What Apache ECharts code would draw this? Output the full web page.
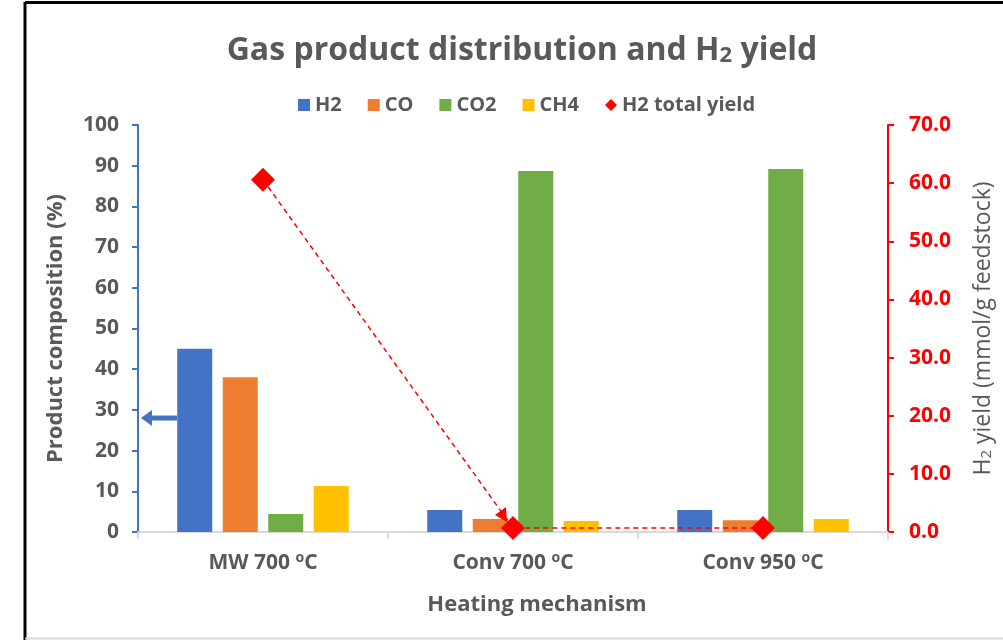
<!DOCTYPE html>
<html>
<head>
<meta charset="utf-8">
<script src="https://cdn.jsdelivr.net/npm/echarts@6/dist/echarts.min.js"></script>
<style>
  html, body { margin: 0; padding: 0; background: #fff; }
  #main { width: 1003px; height: 640px; }
</style>
</head>
<body>
<div id="main"></div>
<script>
// data
var categories = ['MW 700 oC', 'Conv 700 oC', 'Conv 950 oC'];
var h2 = [45, 5.4, 5.4];
var co = [38, 3.2, 2.9];
var co2 = [4.4, 88.7, 89.2];
var ch4 = [11.3, 2.7, 3.2];
var h2Yield = [60.6, 0.7, 0.7];
var leftTicks = [0, 100, 10];
var rightTicks = [0, 70, 10];

var grey = '#595959';
var font = 'Open Sans';

var myChart = echarts.init(document.getElementById('main'));

function barSeries(name, data, color) {
    return {
        name: name,
        type: 'bar',
        data: data,
        barWidth: 35,
        barGap: '30%',
        itemStyle: { color: color },
        z: 2
    };
}

var option = {
    backgroundColor: '#fff',
    textStyle: { fontFamily: font },
    title: {
        text: 'Gas product distribution and H{sub|2} yield',
        left: 517,
        textAlign: 'center',
        top: 30,
        textStyle: {
            fontFamily: font,
            fontSize: 32,
            fontWeight: 'bold',
            color: grey,
            rich: {
                sub: { fontFamily: font, fontSize: 22, fontWeight: 'bold', color: grey, padding: [10, 0, 0, 0] }
            }
        }
    },
    legend: {
        top: 90,
        left: 293,
        itemWidth: 12,
        itemHeight: 12,
        itemGap: 26,
        textStyle: { fontFamily: font, fontSize: 20, fontWeight: 'bold', color: grey },
        data: [
            { name: 'H2', icon: 'rect' },
            { name: 'CO', icon: 'rect' },
            { name: 'CO2', icon: 'rect' },
            { name: 'CH4', icon: 'rect' },
            { name: 'H2 total yield', icon: 'diamond', itemStyle: { color: '#ff0000' } }
        ]
    },
    grid: { left: 138, right: 113, top: 125, bottom: 108 },
    xAxis: {
        type: 'category',
        data: categories,
        name: 'Heating mechanism',
        nameLocation: 'middle',
        nameGap: 62,
        nameTextStyle: { fontFamily: font, fontSize: 22, fontWeight: 'bold', color: grey, padding: [0, 0, 0, 48] },
        axisLine: { lineStyle: { color: '#d9d9d9', width: 2 } },
        axisTick: { show: true, length: 7, lineStyle: { color: '#d9d9d9', width: 2 } },
        axisLabel: {
            margin: 19,
            formatter: function (v) {
                var p = v.split(' oC');
                return p[0] + ' {sup|o}C';
            },
            fontFamily: font,
            fontSize: 21,
            fontWeight: 'bold',
            color: grey,
            rich: {
                sup: { fontFamily: font, fontSize: 14, fontWeight: 'bold', color: grey, padding: [0, 0, 10, 0] }
            }
        }
    },
    yAxis: [
        {
            type: 'value',
            min: leftTicks[0],
            max: leftTicks[1],
            interval: leftTicks[2],
            name: 'Product composition (%)',
            nameLocation: 'middle',
            nameRotate: 90,
            nameGap: 71,
            nameTextStyle: { fontFamily: font, fontSize: 22, fontWeight: 'bold', color: grey },
            axisLine: { show: true, lineStyle: { color: '#4472c4', width: 2 } },
            axisTick: { show: true, length: 6, lineStyle: { color: '#4472c4', width: 2 } },
            axisLabel: { margin: 19, fontFamily: font, fontSize: 21, fontWeight: 'bold', color: grey },
            splitLine: { show: false }
        },
        {
            type: 'value',
            min: rightTicks[0],
            max: rightTicks[1],
            interval: rightTicks[2],
            position: 'right',
            name: 'H{sub|2} yield (mmol/g feedstock)',
            nameLocation: 'middle',
            nameRotate: 90,
            nameGap: 84,
            nameTextStyle: {
                fontFamily: font, fontSize: 23, color: grey,
                rich: { sub: { fontFamily: font, fontSize: 15, color: grey, padding: [7, 0, 0, 0] } }
            },
            axisLine: { show: true, lineStyle: { color: '#ff0000', width: 2 } },
            axisTick: { show: true, length: 6, lineStyle: { color: '#ff0000', width: 2 } },
            axisLabel: {
                margin: 21,
                formatter: function (v) { return v.toFixed(1); },
                fontFamily: font, fontSize: 21, fontWeight: 'bold', color: '#ff0000'
            },
            splitLine: { show: false }
        }
    ],
    series: [
        barSeries('H2', h2, '#4472c4'),
        barSeries('CO', co, '#ed7d31'),
        barSeries('CO2', co2, '#70ad47'),
        barSeries('CH4', ch4, '#ffc000'),
        {
            name: 'H2 total yield',
            type: 'line',
            yAxisIndex: 1,
            data: h2Yield,
            symbol: 'diamond',
            symbolSize: 24,
            itemStyle: { color: '#ff0000' },
            lineStyle: { color: '#ff0000', width: 1.5, type: [5, 4] },
            z: 5
        }
    ]
};

myChart.setOption(option);

// annotations: chart frame, blue arrow to left axis, small red arrowhead
function drawExtras() {
    var g = [];
    g.push({ type: 'line', shape: { x1: 25, y1: 2.5, x2: 1003, y2: 2.5 }, style: { stroke: '#000', lineWidth: 3 }, z: 10 });
    g.push({ type: 'line', shape: { x1: 25, y1: 2, x2: 25, y2: 640 }, style: { stroke: '#000', lineWidth: 3 }, z: 10 });
    g.push({ type: 'line', shape: { x1: 25, y1: 638.5, x2: 1003, y2: 638.5 }, style: { stroke: '#d9d9d9', lineWidth: 2 }, z: 10 });

    var c0 = myChart.convertToPixel({ xAxisIndex: 0 }, categories[0]);
    var y28 = myChart.convertToPixel({ yAxisIndex: 0 }, 28);
    var barLeft = c0 - 86;
    var axisX = option.grid.left;
    g.push({ type: 'line', shape: { x1: barLeft, y1: y28, x2: axisX + 12, y2: y28 }, style: { stroke: '#4472c4', lineWidth: 5 }, z: 10 });
    g.push({ type: 'polygon', shape: { points: [[axisX + 3, y28], [axisX + 14, y28 - 8], [axisX + 14, y28 + 8]] }, style: { fill: '#4472c4' }, z: 10 });

    var p = myChart.convertToPixel({ xAxisIndex: 0, yAxisIndex: 1 }, [categories[1], h2Yield[1]]);
    g.push({ type: 'polygon', shape: { points: [[p[0] - 6, p[1] - 6], [p[0] - 18, p[1] - 13], [p[0] - 7, p[1] - 21]] }, style: { fill: '#ff0000' }, z: 10 });

    myChart.setOption({ graphic: g });
}
drawExtras();
</script>
</body>
</html>
